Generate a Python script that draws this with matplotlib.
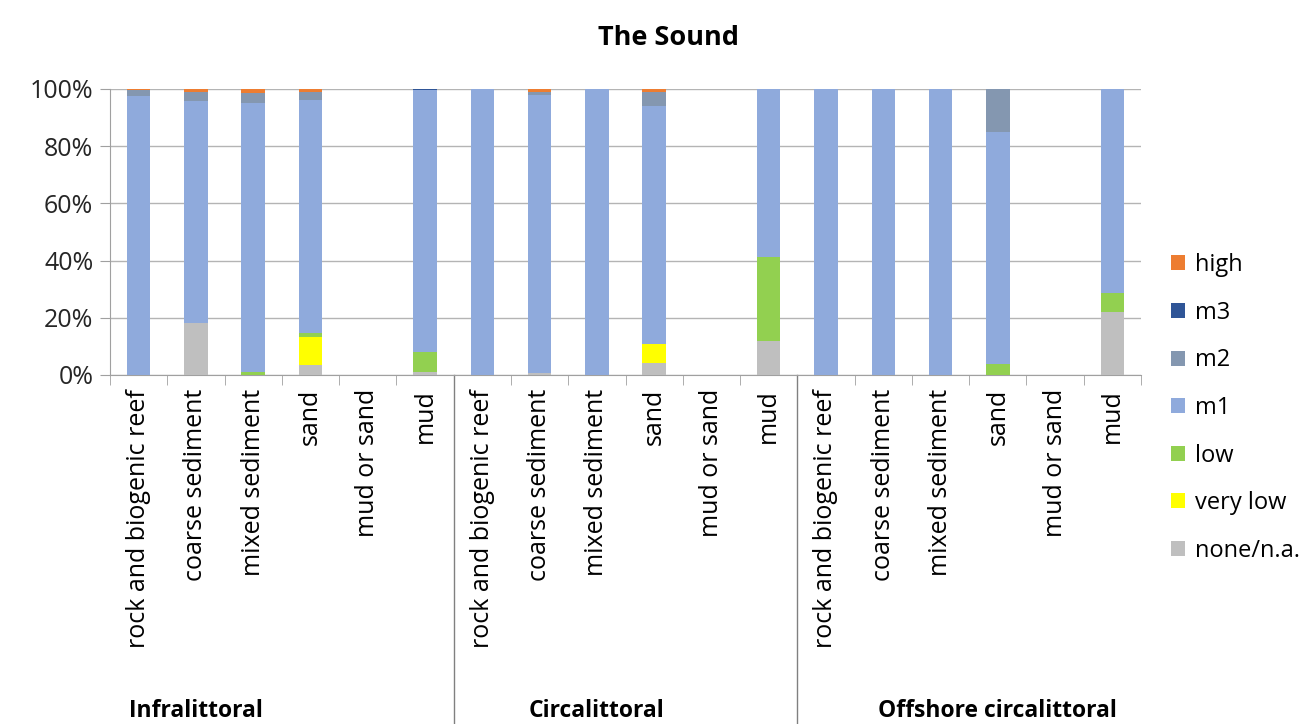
import numpy as np
import matplotlib
matplotlib.use("Agg")
import matplotlib.pyplot as plt
from matplotlib.patches import Patch
import matplotlib.transforms as mtransforms

plt.rcParams['font.family'] = ['Open Sans', 'DejaVu Sans']

# -------------------------------
# Data (percent of area)
# -------------------------------
categories = ["rock and biogenic reef", "coarse sediment", "mixed sediment",
              "sand", "mud or sand", "mud"] * 3
groups = ["Infralittoral", "Circalittoral", "Offshore circalittoral"]

none_na  = [0.0, 18.3, 0.0, 3.5, 0, 1.0,   0, 0.8, 0, 4.3, 0, 11.9,   0, 0, 0, 0.0, 0, 21.9]
very_low = [0.0, 0.0, 0.0, 9.9, 0, 0.0,    0, 0.0, 0, 6.4, 0, 0.0,    0, 0, 0, 0.0, 0, 0.0]
low      = [0.0, 0.0, 1.2, 1.2, 0, 7.0,    0, 0.0, 0, 0.0, 0, 29.2,   0, 0, 0, 3.8, 0, 6.7]
m1       = [97.5, 77.5, 94.0, 81.6, 0, 91.5, 100, 97.2, 100, 83.5, 0, 58.9, 100, 100, 100, 81.0, 0, 71.4]
m2       = [2.0, 3.2, 3.3, 2.6, 0, 0.0,    0, 1.0, 0, 4.8, 0, 0.0,    0, 0, 0, 15.2, 0, 0.0]
m3       = [0.0, 0.0, 0.0, 0.0, 0, 0.5,    0, 0.0, 0, 0.0, 0, 0.0,    0, 0, 0, 0.0, 0, 0.0]
high     = [0.5, 1.0, 1.5, 1.2, 0, 0.0,    0, 1.0, 0, 1.0, 0, 0.0,    0, 0, 0, 0.0, 0, 0.0]

series = [("none/n.a.", none_na, "#BFBFBF"),
          ("very low", very_low, "#FFFF00"),
          ("low", low, "#92D050"),
          ("m1", m1, "#8FAADC"),
          ("m2", m2, "#8497B0"),
          ("m3", m3, "#2F5597"),
          ("high", high, "#ED7D31")]

# -------------------------------
# Plot
# -------------------------------
fig = plt.figure(figsize=(13.11, 7.24), dpi=100)
ax = fig.add_axes([110 / 1311, 349 / 724, 1031 / 1311, 286 / 724])

x = np.arange(len(categories))
bottom = np.zeros(len(categories))
for name, vals, col in series:
    vals = np.array(vals)
    ax.bar(x, vals, bottom=bottom, width=0.41, color=col, zorder=3)
    bottom += vals

ax.set_xlim(-0.5, len(categories) - 0.5)
ax.set_ylim(0, 100)
ax.set_yticks(np.arange(0, 101, 20))
ax.set_yticklabels([f"{v}%" for v in range(0, 101, 20)], fontsize=18, color="#262626")
ax.grid(axis="y", color="#B4B4B4", linewidth=1.0, zorder=0)

ax.set_xticks(x)
ax.set_xticklabels(categories, rotation=90, fontsize=18, color="#000000", va="top")
ax.tick_params(axis="x", which="major", length=0, pad=10)
ax.set_xticks(np.arange(-0.5, len(categories), 1), minor=True)
ax.tick_params(axis="x", which="minor", length=7, color="#A0A0A0", direction="out")
ax.tick_params(axis="y", length=7, color="#A0A0A0", direction="out", pad=5)

for s in ["top", "right"]:
    ax.spines[s].set_visible(False)
for s in ["left", "bottom"]:
    ax.spines[s].set_color("#A0A0A0")

# group separators and labels
trans = mtransforms.blended_transform_factory(ax.transData, ax.transAxes)
for xs in [5.5, 11.5]:
    ax.plot([xs, xs], [0, -1.25], color="#808080", linewidth=1.0,
            transform=trans, clip_on=False)
for gx, g in zip([1, 8, 15], groups):
    ax.text(gx, -1.175, g, transform=trans, ha="center", va="center",
            fontsize=16.5, fontweight="bold", color="#000000")

fig.text(668 / 1311, 1 - 38 / 724, "The Sound", ha="center", va="center",
         fontsize=19.5, fontweight="bold", color="#000000")

handles = [Patch(facecolor=col, label=name) for name, vals, col in series[::-1]]
fig.legend(handles=handles, loc="center left", bbox_to_anchor=(1150 / 1311, 1 - 408 / 724),
           frameon=False, fontsize=17, handlelength=0.6, handleheight=0.6,
           handletextpad=0.4, labelspacing=1.0)

plt.savefig("out.png", dpi=100)
